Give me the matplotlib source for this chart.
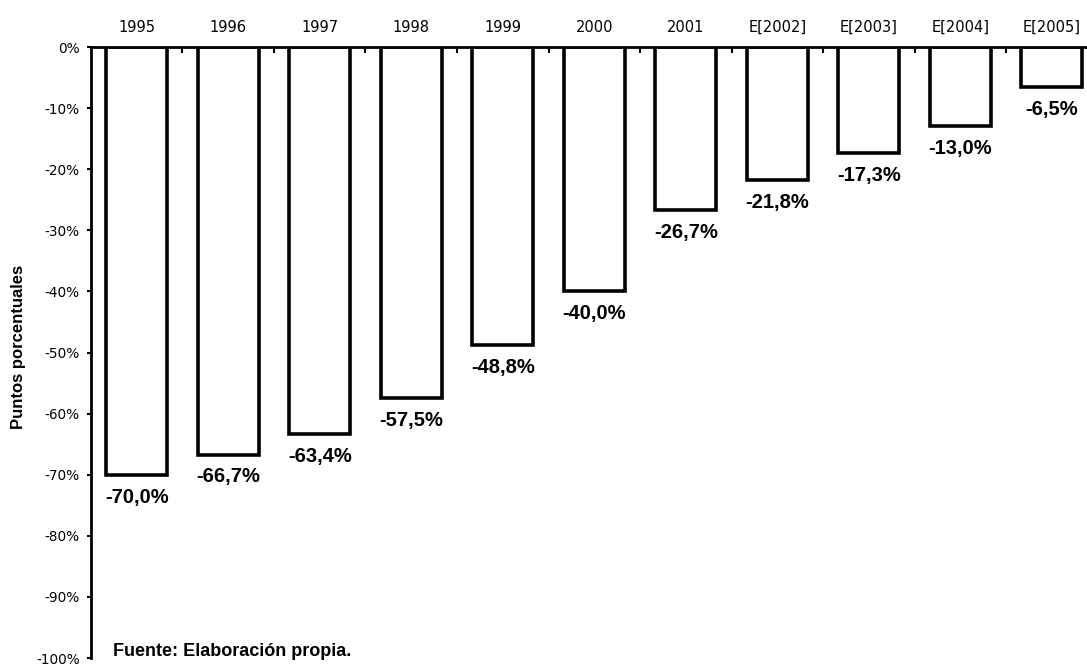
import matplotlib
matplotlib.use("Agg")
import matplotlib.pyplot as plt
import numpy as np

# datos
anios = ["1995", "1996", "1997", "1998", "1999", "2000", "2001",
         "E[2002]", "E[2003]", "E[2004]", "E[2005]"]
valores = [-70.0, -66.7, -63.4, -57.5, -48.8, -40.0, -26.7,
           -21.8, -17.3, -13.0, -6.5]
yticks = [0, -10, -20, -30, -40, -50, -60, -70, -80, -90, -100]

fig = plt.figure(figsize=(10.87, 6.66), dpi=100)
ax = fig.add_axes([0.0837, 0.012, 0.926, 0.9174])

x = np.arange(len(anios))
ax.bar(x, valores, width=0.67, color="white", edgecolor="black", linewidth=2.6)

for xi, v in zip(x, valores):
    etiqueta = ("%.1f%%" % v).replace(".", ",")
    ax.text(xi, v - 2.1, etiqueta, ha="center", va="top",
            fontsize=14.5, fontweight="bold", family="Liberation Sans")

ax.set_xlim(-0.5, len(anios) - 0.5)
ax.set_ylim(-100, 0)

# eje x arriba
ax.xaxis.tick_top()
ax.set_xticks(x)
ax.set_xticklabels(anios, fontsize=10.5)
ax.tick_params(axis="x", length=0, pad=9)
ax.set_xticks(np.arange(0.5, len(anios) - 0.5, 1), minor=True)
ax.tick_params(axis="x", which="minor", direction="in", length=4.5, width=1.5, top=True)

ax.set_yticks(yticks)
ax.set_yticklabels(["%d%%" % t for t in yticks], fontsize=9.8)
ax.tick_params(axis="y", direction="out", length=3, width=1.5, pad=5)

ax.spines["right"].set_visible(False)
ax.spines["bottom"].set_visible(False)
ax.spines["left"].set_linewidth(2)
ax.spines["top"].set_linewidth(2)

fig.text(19 / 1087, 0.479, "Puntos porcentuales", rotation=90, fontsize=12,
         fontweight="bold", family="Liberation Sans", ha="center", va="center")

ax.text(0.022, 0.003, "Fuente: Elaboración propia.", transform=ax.transAxes,
        fontsize=13, fontweight="bold", family="Liberation Sans",
        ha="left", va="baseline")

plt.savefig("out.png", dpi=100)
